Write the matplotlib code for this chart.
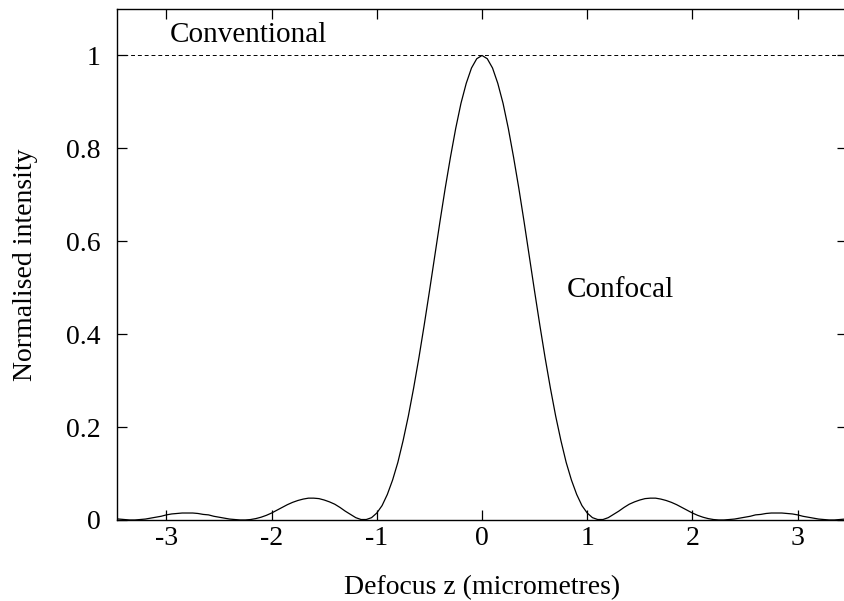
import matplotlib
matplotlib.use("Agg")
import matplotlib.pyplot as plt

# Values (confocal axial response), right half; curve is symmetric
z_right = [0.0, 0.05, 0.1, 0.15, 0.2, 0.25, 0.3, 0.35, 0.4, 0.45, 0.5, 0.55, 0.6, 0.65,
           0.7, 0.75, 0.8, 0.85, 0.9, 0.95, 1.0, 1.05, 1.1, 1.15, 1.2, 1.25, 1.3, 1.35,
           1.4, 1.45, 1.5, 1.55, 1.6, 1.65, 1.7, 1.75, 1.8, 1.85, 1.9, 1.95, 2.0, 2.05,
           2.1, 2.15, 2.2, 2.25, 2.3, 2.35, 2.4, 2.45, 2.5, 2.55, 2.6, 2.65, 2.7, 2.75,
           2.8, 2.85, 2.9, 2.95, 3.0, 3.05, 3.1, 3.15, 3.2, 3.25, 3.3, 3.35, 3.4, 3.45, 3.5]
i_right = [1.0, 0.993, 0.973, 0.940, 0.897, 0.843, 0.781, 0.714, 0.642, 0.567, 0.492, 0.419, 0.349, 0.284,
           0.224, 0.171, 0.124, 0.086, 0.055, 0.031, 0.015, 0.005, 0.001, 0.001, 0.005, 0.012, 0.019, 0.027,
           0.034, 0.039, 0.043, 0.046, 0.047, 0.047, 0.045, 0.042, 0.038, 0.033, 0.027, 0.021, 0.015, 0.010,
           0.006, 0.003, 0.001, 0.0, 0.0, 0.001, 0.002, 0.004, 0.006, 0.008, 0.011, 0.012, 0.014, 0.015,
           0.015, 0.015, 0.014, 0.013, 0.011, 0.008, 0.006, 0.004, 0.002, 0.001, 0.0, 0.0, 0.001, 0.002, 0.003]

z = [-v for v in z_right[:0:-1]] + z_right
intensity = i_right[:0:-1] + i_right

conventional_level = 1.0
xticks = [-3, -2, -1, 0, 1, 2, 3]
yticks = [0, 0.2, 0.4, 0.6, 0.8, 1]
ytick_labels = ["0", "0.2", "0.4", "0.6", "0.8", "1"]

plt.rcParams['font.family'] = ['Liberation Serif', 'DejaVu Serif']
plt.rcParams['font.size'] = 20

fig = plt.figure(figsize=(8.44, 6.01), dpi=100)
ax = fig.add_axes([0.1386, 0.1348, 0.8650, 0.8502])

ax.plot(z, intensity, color='black', lw=0.9)
ax.axhline(conventional_level, color='black', lw=0.7, ls=(0, (4, 3)))

ax.set_xlim(-3.47, 3.47)
ax.set_ylim(0, 1.1)
ax.set_xticks(xticks)
ax.set_xticklabels([str(t) for t in xticks])
ax.set_yticks(yticks)
ax.set_yticklabels(ytick_labels)
ax.tick_params(direction='in', length=7, width=0.9, top=True, right=True)
ax.tick_params(axis='x', pad=4)
ax.tick_params(axis='y', pad=12)
for s in ax.spines.values():
    s.set_linewidth(1.0)

ax.text(-2.97, 1.028, "Conventional", fontsize=21)
ax.text(0.81, 0.48, "Confocal", fontsize=21)

ax.set_xlabel("Defocus z (micrometres)", labelpad=18)
ax.set_ylabel("Normalised intensity", labelpad=20)

fig.savefig("out.png", dpi=100)
